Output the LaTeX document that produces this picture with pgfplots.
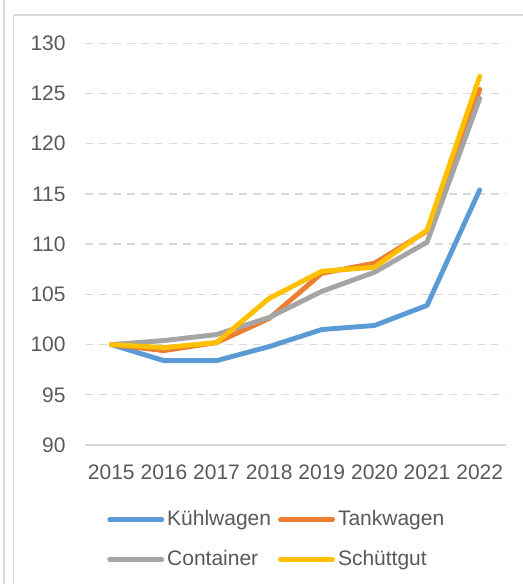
\documentclass[border=0pt]{standalone}
\usepackage{pgfplots}
\pgfplotsset{compat=1.18}
\usepackage{fontspec}
\setmainfont{Liberation Sans}
\definecolor{cblue}{HTML}{5B9BD5}
\definecolor{corange}{HTML}{ED7D31}
\definecolor{cgray}{HTML}{A5A5A5}
\definecolor{cyellow}{HTML}{FFC000}
\definecolor{gridc}{HTML}{D9D9D9}
\definecolor{txt}{HTML}{595959}
\begin{document}
\fontsize{10.5}{12.6}\selectfont
\begin{tikzpicture}
\useasboundingbox (0,0) rectangle (261.5pt,292pt);
\draw[gridc, line width=0.6pt] (2pt,0) -- (2pt,292pt);
\draw[gridc, line width=0.6pt] (6.75pt,0) -- (6.75pt,284.5pt) -- (261.5pt,284.5pt);
\begin{axis}[
  at={(42.5pt,69.5pt)}, anchor=south west,
  scale only axis, width=210.5pt, height=200.85pt,
  xmin=-0.5, xmax=7.5, ymin=90, ymax=130,
  xtick={0,...,7},
  xticklabels={2015,2016,2017,2018,2019,2020,2021,2022},
  ytick={95,100,...,130},
  extra y ticks={90},
  extra y tick style={grid style={solid, gridc, line width=0.7pt}},
  ymajorgrids,
  grid style={dashed, dash pattern=on 4pt off 3pt, gridc, line width=0.7pt},
  axis line style={draw=none},
  major tick length=0pt,
  tick label style={font=\fontsize{10.5}{12.6}\selectfont, text=txt},
  yticklabel style={xshift=-6pt},
  xticklabel style={yshift=-6pt},
  /pgf/number format/assume math mode=true,
  legend columns=2,
  legend cell align=left,
  legend style={at={(0.052,-0.155)}, anchor=north west, draw=none, fill=none,
    font=\fontsize{10.5}{12.6}\selectfont, text=txt, inner sep=0pt,
    row sep=7.5pt,
    nodes={inner sep=1.5pt},
    /tikz/every even column/.append style={column sep=2pt}},
  legend image code/.code={\draw[#1, line cap=round] (0pt,0pt) -- (26pt,0pt);},
  every axis plot/.append style={line width=2.45pt, line join=round, line cap=round},
]
\addplot[cblue] coordinates {(0,100) (1,98.4) (2,98.4) (3,99.8) (4,101.5) (5,101.9) (6,103.9) (7,115.4)};
\addlegendentry{Kühlwagen}
\addplot[corange] coordinates {(0,100) (1,99.4) (2,100.2) (3,102.6) (4,107.1) (5,108.1) (6,111.3) (7,125.4)};
\addlegendentry{Tankwagen}
\addplot[cgray] coordinates {(0,100) (1,100.4) (2,101.0) (3,102.7) (4,105.3) (5,107.2) (6,110.2) (7,124.5)};
\addlegendentry{Container}
\addplot[cyellow] coordinates {(0,100) (1,99.7) (2,100.2) (3,104.6) (4,107.3) (5,107.7) (6,111.4) (7,126.7)};
\addlegendentry{Schüttgut}
\end{axis}
\end{tikzpicture}
\end{document}
